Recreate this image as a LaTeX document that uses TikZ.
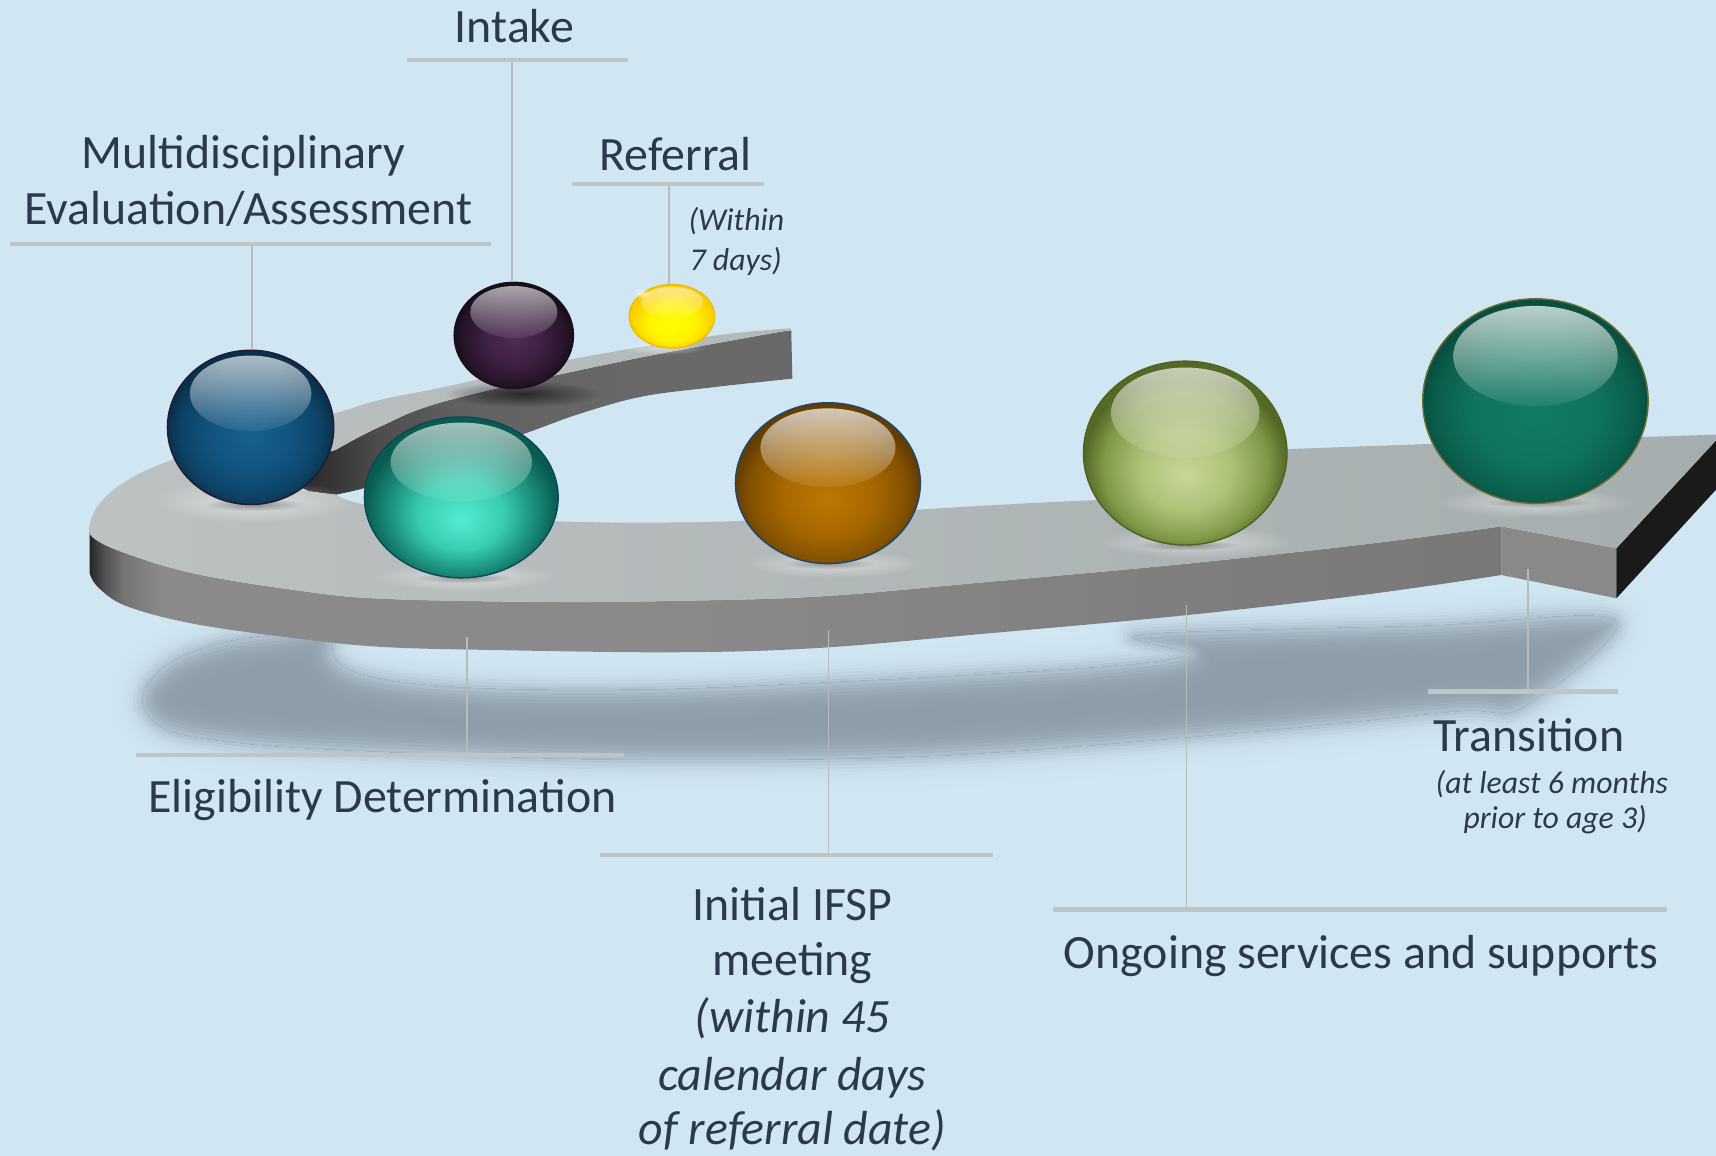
\documentclass[tikz,border=0pt]{standalone}
\usepackage{fontspec}
\setmainfont{Carlito}
\usetikzlibrary{fadings}
\definecolor{bgc}{RGB}{209,230,243}
\definecolor{shadowc}{RGB}{142,157,170}
\definecolor{txt}{RGB}{42,58,76}
\definecolor{barc}{RGB}{190,197,196}
\definecolor{stemc}{RGB}{180,188,188}
\definecolor{topL}{RGB}{188,193,193}
\definecolor{topR}{RGB}{165,173,174}
\definecolor{backface}{RGB}{137,137,137}
\definecolor{blackface}{RGB}{26,26,26}
\definecolor{olblue}{RGB}{40,24,48}
\definecolor{olpurple}{RGB}{26,14,30}
\definecolor{olyellow}{RGB}{235,190,0}
\definecolor{olaqua}{RGB}{12,70,92}
\definecolor{olorange}{RGB}{28,72,110}
\definecolor{ololive}{RGB}{80,98,36}
\definecolor{oldteal}{RGB}{110,110,48}
\pgfdeclareradialshading{ballblue}{\pgfpoint{0bp}{-3bp}}{rgb(0bp)=(0.09,0.38,0.56); rgb(12bp)=(0.07,0.33,0.50); rgb(21bp)=(0.05,0.26,0.40); rgb(25bp)=(0.03,0.19,0.30); rgb(50bp)=(0.03,0.19,0.30)}
\pgfdeclareradialshading{ballpurple}{\pgfpoint{0bp}{-2bp}}{rgb(0bp)=(0.31,0.17,0.33); rgb(12bp)=(0.24,0.13,0.26); rgb(21bp)=(0.16,0.08,0.17); rgb(25bp)=(0.10,0.05,0.11); rgb(50bp)=(0.10,0.05,0.11)}
\pgfdeclareradialshading{ballyellow}{\pgfpoint{0bp}{-7bp}}{rgb(0bp)=(1,1,0); rgb(14bp)=(1,0.95,0); rgb(25bp)=(0.98,0.80,0); rgb(50bp)=(0.98,0.80,0)}
\pgfdeclareradialshading{ballaqua}{\pgfpoint{0bp}{-7bp}}{rgb(0bp)=(0.32,0.93,0.82); rgb(11bp)=(0.22,0.80,0.69); rgb(20bp)=(0.09,0.52,0.45); rgb(25bp)=(0.03,0.36,0.31); rgb(50bp)=(0.03,0.36,0.31)}
\pgfdeclareradialshading{ballorange}{\pgfpoint{0bp}{-5bp}}{rgb(0bp)=(0.74,0.47,0.02); rgb(12bp)=(0.66,0.41,0.0); rgb(21bp)=(0.52,0.32,0.0); rgb(25bp)=(0.40,0.24,0.0); rgb(50bp)=(0.40,0.24,0.0)}
\pgfdeclareradialshading{ballolive}{\pgfpoint{0bp}{-6bp}}{rgb(0bp)=(0.78,0.84,0.60); rgb(11bp)=(0.68,0.76,0.47); rgb(20bp)=(0.50,0.60,0.28); rgb(25bp)=(0.33,0.41,0.15); rgb(50bp)=(0.33,0.41,0.15)}
\pgfdeclareradialshading{balldteal}{\pgfpoint{0bp}{-3bp}}{rgb(0bp)=(0.07,0.48,0.40); rgb(14bp)=(0.06,0.45,0.37); rgb(22bp)=(0.04,0.37,0.30); rgb(25bp)=(0.03,0.31,0.25); rgb(50bp)=(0.03,0.31,0.25)}
\pgfdeclarehorizontalshading{sidefaceshade}{100bp}{rgb(0bp)=(0.13,0.13,0.13); rgb(25bp)=(0.13,0.13,0.13); rgb(25.6bp)=(0.32,0.32,0.32); rgb(26.3bp)=(0.46,0.46,0.46); rgb(27.6bp)=(0.54,0.54,0.54); rgb(45bp)=(0.54,0.54,0.54); rgb(75bp)=(0.47,0.47,0.47); rgb(100bp)=(0.47,0.47,0.47)}
\pgfdeclarehorizontalshading{innerfaceshade}{100bp}{rgb(0bp)=(0.14,0.14,0.14); rgb(25bp)=(0.14,0.14,0.14); rgb(29bp)=(0.20,0.20,0.20); rgb(34bp)=(0.30,0.30,0.30); rgb(42bp)=(0.38,0.38,0.38); rgb(60bp)=(0.41,0.41,0.41); rgb(100bp)=(0.42,0.42,0.42)}
\tikzfading[name=softspot, inner color=transparent!0, outer color=transparent!100]
\newcommand\glassball[7]{%
  \shade[shading=#5] (#1,#2) ellipse [x radius=#3, y radius=#4];
  \draw[#6, line width=1.3pt] (#1,#2) ellipse [x radius=#3, y radius=#4];
  \fill[white, fill opacity=0.07] (#1,{#2-0.44*#4}) ellipse [x radius={0.73*#3}, y radius={0.49*#4}];
  \fill[white, fill opacity=#7, path fading=south] (#1,{#2-0.44*#4}) ellipse [x radius={0.73*#3}, y radius={0.49*#4}];
}
\newcommand\softspot[6]{%
  \fill[#5, fill opacity=#6, path fading=softspot] (#1,#2) ellipse [x radius=#3, y radius=#4];
}
\def\shadowpath{plot[smooth cycle, tension=0.55] coordinates {(300,575) (250,580) (200,588) (160,603) (135,625) (132,648) (155,668) (220,679) (330,686) (562,694) (845,691) (1128,670) (1330,650) (1392,646) (1476,567) (1300,572) (1043,580) (1085,598) (1000,610) (751,624) (600,630) (468,630) (380,625) (327,615) (305,600)}}
\tikzset{
  lbl/.style={font=\fontsize{43.7}{50}\selectfont, text=txt, inner sep=0pt, anchor=base},
  lblit/.style={lbl, font=\fontsize{43.7}{50}\selectfont\itshape},
  note/.style={font=\fontsize{29}{34}\selectfont\itshape, text=txt, inner sep=0pt, anchor=base},
  bar/.style={draw=barc, line width=4pt},
  stem/.style={draw=stemc, line width=1.5pt},
  blurstroke/.style={line width=#1, line join=round, fill=none},
}
\begin{document}
\begin{tikzpicture}[x=1pt,y=-1pt]
\useasboundingbox (0,0) rectangle (1568,1056);
\clip (0,0) rectangle (1568,1056);
\fill[bgc] (0,0) rectangle (1568,1056);

% ground shadow, gaussian-like blur on both sides of its edge
\foreach \w/\p in {60/1,54/1.5,48/2.5,42/4,36/7,30/11,24/17,18/25,12/34,6/45}
  \path[draw=shadowc!\p!bgc, blurstroke=\w pt] \shadowpath;
\begin{scope}
  \clip \shadowpath;
  \fill[shadowc] (0,500) rectangle (1568,760);
  \foreach \w/\p in {54/99,48/98,42/96,36/93,30/89,24/83,18/75,12/66,6/55}
    \path[draw=shadowc!\p!bgc, blurstroke=\w pt] \shadowpath;
\end{scope}

% inner (dark) side face of the curve and upper arm
\shade[shading=innerfaceshade]
  plot[smooth, tension=0.6] coordinates {(723,302) (697,306) (564,331) (409,366) (347,390) (307,411)}
  -- (285,418) -- (262,440) -- (290,452)
  -- plot[smooth, tension=0.6] coordinates {(307,452) (340,444) (400,424) (480,396) (530,378) (586,362.5) (650,354) (724,346)}
  -- cycle;

% outer front side face
\shade[shading=sidefaceshade]
  plot[smooth, tension=0.6] coordinates {(82,480) (86,492) (116,506) (177,524) (268,539) (347,547) (498,550) (620,549) (749,545) (900,532) (1085,515) (1250,497) (1372,481)}
  -- (1372,525.4)
  -- plot[smooth, tension=0.6] coordinates {(1372,525.4) (1250,543) (1085,562) (900,579) (749,592) (620,596) (453,594) (347,591) (268,583) (177,570) (116,554) (90,537) (82,524)}
  -- cycle;

% arrow head faces
\fill[backface] (1372,481) -- (1477,501) -- (1477,546.7) -- (1372,525.4) -- cycle;
\fill[blackface] (1477,501) -- (1573,397) -- (1573,442) -- (1477,546.7) -- cycle;

% top face
\shade[left color=topL, right color=topR]
  plot[smooth, tension=0.6] coordinates {(722,300) (666,305) (586,317) (498,333) (409,353) (347,365.5) (305,378) (230,398) (158,420) (116,439) (91,460) (82,480) (86,492) (116,506) (177,524) (268,539) (347,547) (498,550) (620,549) (749,545) (900,532) (1085,515) (1250,497) (1372,481)}
  -- (1477,501) -- (1573,397) -- (1305,405.7) -- (1160,411) -- (1130,452)
  -- plot[smooth, tension=0.6] coordinates {(1130,452) (1000,457) (900,462) (786,469) (675,476) (600,477.5) (533,477) (450,474) (400,469) (329,460) (307,452)}
  -- (262,446) -- (262,420)
  -- plot[smooth, tension=0.6] coordinates {(307,411) (347,390) (409,366) (564,331) (697,306) (723,302)}
  -- cycle;

% halos and contact shadows
\softspot{232}{458}{92}{20}{white}{0.5}
\softspot{232}{461}{45}{6}{black}{0.35}
\softspot{478}{360}{72}{12}{black}{0.6}
\softspot{606}{318}{40}{6}{white}{0.45}
\softspot{425}{527}{82}{13}{white}{0.5}
\softspot{424}{528}{45}{5}{black}{0.3}
\softspot{762}{515}{82}{13}{white}{0.5}
\softspot{758}{515}{42}{5}{black}{0.3}
\softspot{1092}{495}{90}{15}{white}{0.5}
\softspot{1085}{498}{48}{5}{black}{0.3}
\softspot{1402}{459}{90}{14}{white}{0.5}
\softspot{1405}{459}{50}{5}{black}{0.3}

% balls
\glassball{229}{390.5}{76}{70.5}{ballblue}{olblue}{0.65}
\glassball{469.5}{306.5}{54.5}{48.5}{ballpurple}{olpurple}{0.6}
\glassball{614}{289}{39}{29}{ballyellow}{olyellow}{0.5}
\fill[white, fill opacity=0.7, path fading=softspot] (586,268) ellipse [x radius=9, y radius=5];
\glassball{421.5}{454.5}{88.5}{73.5}{ballaqua}{olaqua}{0.6}
\glassball{756.5}{441.5}{84.5}{73.5}{ballorange}{olorange}{0.7}
\glassball{1083}{414}{93}{84}{ballolive}{ololive}{0.65}
\glassball{1403}{366.5}{103}{93.5}{balldteal}{oldteal}{0.7}

% connector anchors
\coordinate (blueTop) at (230,320);
\coordinate (purpleTop) at (468,258);
\coordinate (yellowTop) at (611,261);
\coordinate (eligTrack) at (427,582);
\coordinate (ifspTrack) at (757,576);
\coordinate (ongoingTrack) at (1084,553);
\coordinate (transTrack) at (1396,520);
\coordinate (multiBar) at (230,223);
\coordinate (intakeBar) at (468,55);
\coordinate (referralBar) at (611,168);
\coordinate (eligBar) at (427,690);
\coordinate (ifspBar) at (757,781);
\coordinate (ongoingBar) at (1084,831);
\coordinate (transBar) at (1396,632);

\draw[stem] (multiBar) -- (blueTop);
\draw[stem] (intakeBar) -- (purpleTop);
\draw[stem] (referralBar) -- (yellowTop);
\draw[stem] (eligBar) -- (eligTrack);
\draw[stem] (ifspBar) -- (ifspTrack);
\draw[stem] (ongoingBar) -- (ongoingTrack);
\draw[stem] (transBar) -- (transTrack);

\draw[bar] (9,223) -- (multiBar) -- (449,223);
\draw[bar] (372,55) -- (intakeBar) -- (574,55);
\draw[bar] (523,168) -- (referralBar) -- (698,168);
\draw[bar] (124,690) -- (eligBar) -- (570,690);
\draw[bar] (548,781) -- (ifspBar) -- (907,781);
\draw[bar] (962,831) -- (ongoingBar) -- (1523,831);
\draw[bar] (1305,632) -- (transBar) -- (1478,632);

% labels
\node[lbl] (intake) at (470,39) {Intake};
\node[lbl] (multi1) at (222.5,154) {Multidisciplinary};
\node[lbl] (multi2) at (227,205) {Evaluation/Assessment};
\node[lbl] (referral) at (617.5,156) {Referral};
\node[note, anchor=base west] (within1) at (629,211) {(Within};
\node[note, anchor=base west] (within2) at (630,247) {7 days)};
\node[lbl] (elig) at (349.5,742) {Eligibility Determination};
\node[lbl] (ifsp1) at (724,841) {Initial IFSP};
\node[lbl] (ifsp2) at (724,891) {meeting};
\node[lblit] (ifsp3) at (724,943) {(within 45};
\node[lblit] (ifsp4) at (724,996) {calendar days};
\node[lblit] (ifsp5) at (724,1046) {of referral date)};
\node[lbl] (ongoing) at (1243.5,885) {Ongoing services and supports};
\node[lbl] (transition) at (1397,687) {Transition};
\node[note] (trans1) at (1418,725) {(at least 6 months};
\node[note] (trans2) at (1421,757) {prior to age 3)};
\end{tikzpicture}
\end{document}
